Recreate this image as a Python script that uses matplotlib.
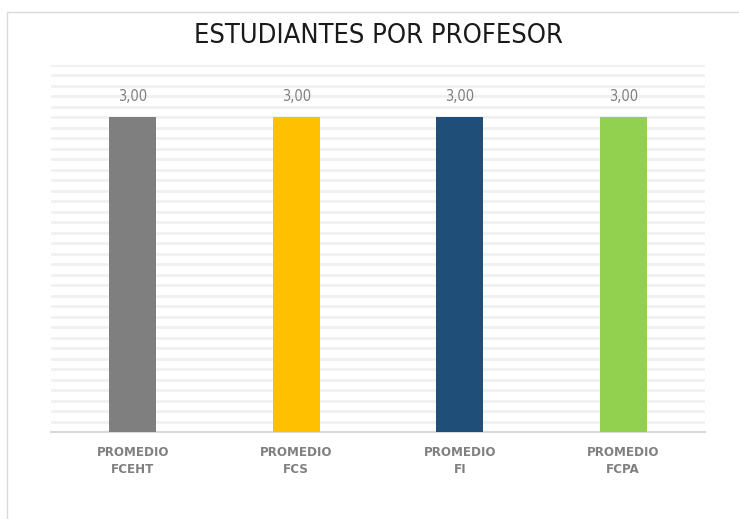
import matplotlib
matplotlib.use("Agg")
import matplotlib.pyplot as plt
from matplotlib.patches import Rectangle

categories = ["PROMEDIO\nFCEHT", "PROMEDIO\nFCS", "PROMEDIO\nFI", "PROMEDIO\nFCPA"]
values = [3.00, 3.00, 3.00, 3.00]
colors = ["#7F7F7F", "#FFC000", "#1F4E79", "#92D050"]
title = "ESTUDIANTES POR PROFESOR"

W, H = 739, 519
fig = plt.figure(figsize=(W / 100, H / 100), dpi=100)
fig.patch.set_facecolor("white")

# chart border
fig.patches.append(Rectangle((7 / W, -0.01), 1.0, 1 - 12 / H + 0.01, transform=fig.transFigure,
                             fill=False, edgecolor="#D9D9D9", linewidth=1.0))

ax = fig.add_axes([51 / W, 1 - 432 / H, (705 - 51) / W, (432 - 65) / H])
x = range(len(categories))
ax.bar(x, values, width=0.29, color=colors, zorder=3)
ax.set_xlim(-0.5, len(categories) - 0.5)
ax.set_ylim(0, 3.5)
ticks = [i / 10 for i in range(0, 36)]
ax.set_yticks(ticks)
ax.yaxis.grid(True, color="#F0F0F0", linewidth=2.0, zorder=0)
ax.set_axisbelow(True)
ax.tick_params(axis="y", left=False, labelleft=False)
ax.tick_params(axis="x", bottom=False, pad=6.5)
ax.set_xticks(list(x))
ax.set_xticklabels(categories, fontsize=9.5, color="#808080", fontweight="semibold",
                   family="DejaVu Sans", fontstretch="condensed", linespacing=1.45)
for s in ["top", "right", "left"]:
    ax.spines[s].set_visible(False)
ax.spines["bottom"].set_color("#D9D9D9")
ax.spines["bottom"].set_linewidth(1.5)

for i, v in enumerate(values):
    ax.annotate(f"{v:.2f}".replace(".", ","), (i, v), xytext=(0, 10), textcoords="offset points",
                ha="center", va="bottom", fontsize=10.5, color="#7F7F7F",
                family="DejaVu Sans", fontstretch="condensed")

fig.text(378 / W, 1 - 36 / H, title, ha="center", va="center", fontsize=19.5,
         family="DejaVu Sans", fontstretch="condensed", color="#1A1A1A")

fig.savefig("out.png", dpi=100, facecolor="white")
